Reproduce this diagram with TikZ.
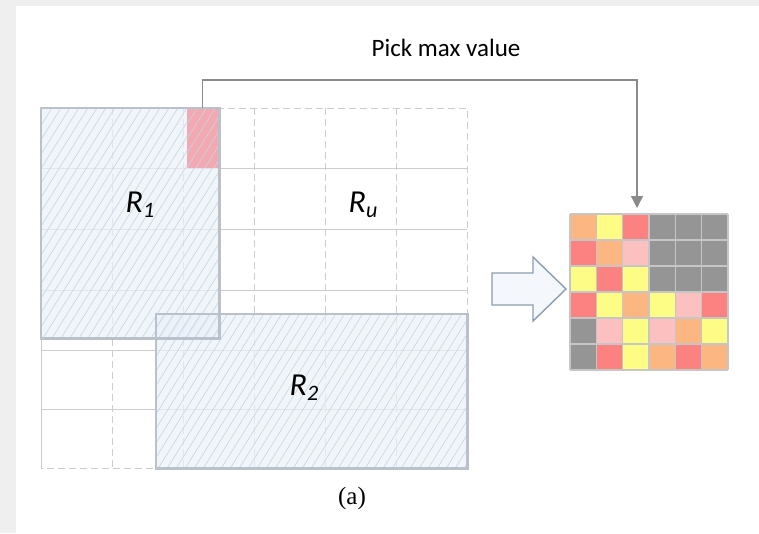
\documentclass[tikz,border=0pt]{standalone}
\usepackage{fontspec}
\setmainfont{Carlito}
\newfontfamily\capfont{Liberation Serif}
\usetikzlibrary{arrows.meta,calc}

\definecolor{pagegray}{HTML}{EFEFEF}
\definecolor{gridline}{HTML}{CDCDCD}
\definecolor{regionfill}{HTML}{EAF1F9}
\definecolor{regionedge}{HTML}{BAC1CA}
\definecolor{hatchcol}{HTML}{C8D4E1}
\definecolor{maxred}{HTML}{F2A9B2}
\definecolor{connector}{HTML}{8A8A8A}
\definecolor{arrowedge}{HTML}{8C9DB0}
\definecolor{arrowfill}{HTML}{F4F8FC}
\definecolor{cello}{HTML}{FBB681}
\definecolor{celly}{HTML}{FDFD86}
\definecolor{cellr}{HTML}{FC8282}
\definecolor{cellp}{HTML}{FDC0C0}
\definecolor{cellg}{HTML}{959595}
\definecolor{cellline}{HTML}{C6C6C6}

\tikzset{
  gridh/.style={gridline, line width=1pt},
  gridv/.style={gridline, line width=1pt, dash pattern=on 7pt off 4pt},
  hatched/.style={path picture={
      \foreach \i in {-420,-411,...,420}
        \draw[hatchcol, line width=0.6pt]
          ([xshift=\i pt]path picture bounding box.center) ++(-170pt,-272pt) -- ++(340pt,544pt);
    }},
  region/.style={rectangle, inner sep=0pt, fill=regionfill, fill opacity=0.7, hatched},
  regionborder/.style={regionedge, line width=2.6pt},
  conn/.style={connector, line width=1.4pt, -{Triangle[width=12pt,length=12pt]}},
  rlabel/.style={inner sep=0pt, font=\fontsize{32}{32}\selectfont\itshape},
}
\newcommand{\rsub}[1]{\raisebox{-5pt}{\fontsize{22}{22}\selectfont #1}}

\begin{document}
\begin{tikzpicture}[x=1pt, y=-1pt]
  \useasboundingbox (0,0) rectangle (759,533);
  % page background
  \fill[white] (0,0) rectangle (759,533);
  \fill[pagegray] (0,0) rectangle (759,6);
  \fill[pagegray] (0,0) rectangle (16,533);

  % feature map grid: solid rows, dashed columns
  \foreach \y in {168,229,290,350,409}
    \draw[gridh] (41,\y) -- (467,\y);
  \foreach \x in {112,183,254,325,396}
    \draw[gridv] (\x,108) -- (\x,468);
  \draw[gridv] (41,108) -- (467,108) -- (467,468) -- (41,468);
  \draw[gridh] (41,338) -- (41,468);

  % regions of interest
  \node[region, minimum width=178pt, minimum height=230pt] (R1) at (130,223) {};
  \node[rectangle, inner sep=0pt, fill=maxred, minimum width=31pt, minimum height=59pt, hatched]
    (maxcell) at (202.5,138) {};
  \node[region, minimum width=311pt, minimum height=154pt] (R2) at (311.5,391) {};
  \draw[regionborder] (R1.north west) rectangle (R1.south east);
  \draw[regionborder] (R2.north west) rectangle (R2.south east);

  % labels
  \node[rlabel] (r1lbl) at (140,205) {R\rsub{1}};
  \node[rlabel] (rulbl) at (363,205) {R\rsub{u}};
  \node[rlabel] (r2lbl) at (304,388) {R\rsub{2}};

  % pooled output
  \node[rectangle, inner sep=0pt, minimum width=158pt, minimum height=156pt] (pool) at (649,292) {};
  \foreach \r/\cols in {0/{o,y,r,g,g,g},1/{r,o,p,g,g,g},2/{y,r,y,g,g,g},
                        3/{r,y,o,y,p,r},4/{g,p,y,p,o,y},5/{g,r,y,o,r,o}}{
    \foreach \c [count=\k from 0] in \cols
      \fill[cell\c] ({570+\k*26.333},{214+\r*26}) rectangle ++(26.333,26);
  }
  \foreach \k in {0,...,6}{
    \draw[cellline, line width=1.3pt] ({570+\k*26.333},214) -- ({570+\k*26.333},370);
    \draw[cellline, line width=1.3pt] (570,{214+\k*26}) -- (728,{214+\k*26});
  }

  % pick-max connector
  \coordinate (tip) at (637,208);
  \draw[conn] (maxcell.north) |- (tip |- 0,80) -- (tip);
  \node[font=\fontsize{25}{25}\selectfont] (pick) at (446,48) {Pick max value};

  % pooling arrow
  \draw[arrowedge, fill=arrowfill, line width=1.4pt, line join=miter]
    (492,273) -- (533,273) -- (533,257) -- (566,289) -- (533,321) -- (533,305) -- (492,305) -- cycle;

  % caption
  \node[font=\capfont\fontsize{25}{25}\selectfont] (cap) at (352,498) {(a)};
\end{tikzpicture}
\end{document}
